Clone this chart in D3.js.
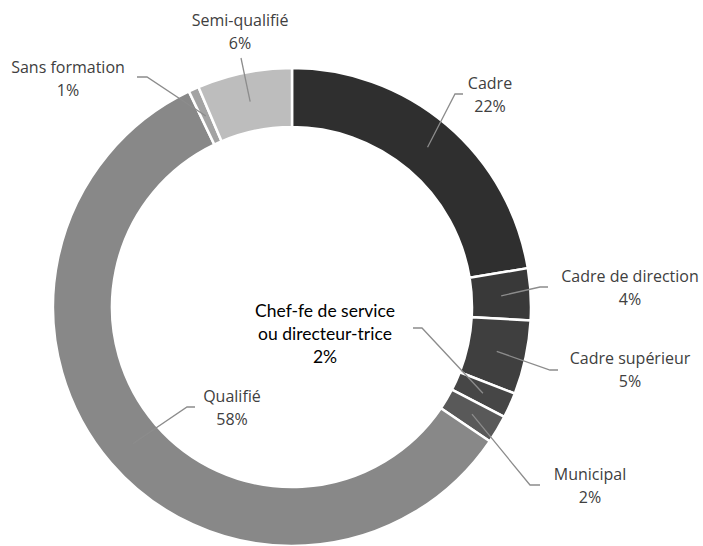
<!DOCTYPE html>
<html><head><meta charset="utf-8">
<script src="https://cdn.jsdelivr.net/npm/d3@7"></script>
<style>body{margin:0;background:#fff}svg{display:block}</style>
</head><body>
<svg id="chart" width="703" height="546"></svg>
<script>
const categories = ["Cadre","Cadre de direction","Cadre supérieur","Chef-fe de service\nou directeur-trice","Municipal","Qualifié","Sans formation","Semi-qualifié"];
const values = [22.4,3.5,5.0,1.7,1.9,58.4,0.7,6.4];
const colors = ["#2f2f2f","#393939","#3f3f3f","#464646","#595959","#888888","#a3a3a3","#bdbdbd"];
// label anchor (text centre) and leader elbow points
const labelPos = [[490,83],[630,276],[630,358],[325,311],[590,474],[232,396],[68,67],[240,20]];
const elbows = [[[455,94],[463,94]],[[540,287],[548,287]],[[550,370],[558,370]],[[422,328],[413,328]],[[530,485],[540,485]],[[187,407],[195,407]],[[147,77],[137,77]],[[241,58],[241,58]]];

const svg = d3.select("#chart");
const cx = 292, cy = 307, R = 239, r = 180;
const g = svg.append("g").attr("transform",`translate(${cx},${cy})`);
const pie = d3.pie().sort(null).value(d=>d);
const arcs = pie(values);
const arc = d3.arc().innerRadius(r).outerRadius(R);
g.selectAll("path.slice").data(arcs).join("path").attr("class","slice")
  .attr("d",arc).attr("fill",(d,i)=>colors[i]).attr("stroke","#fff").attr("stroke-width",2.5);

// leader lines
arcs.forEach((d,i)=>{
  const a = (d.startAngle+d.endAngle)/2;
  const rr = r + (R-r)*0.5;
  const sx = cx + rr*Math.sin(a), sy = cy - rr*Math.cos(a);
  const pts = [[sx,sy], ...elbows[i]];
  svg.append("path").attr("d", d3.line()(pts)).attr("fill","none")
    .attr("stroke","#8c8c8c").attr("stroke-width",1.3);
});

// labels
arcs.forEach((d,i)=>{
  const lines = categories[i].split("\n").concat([Math.round(values[i])+"%"]);
  const special = i===3;
  const t = svg.append("text").attr("text-anchor","middle")
    .attr("font-family", special ? "Lato, 'Open Sans', sans-serif" : "'Open Sans', 'Noto Sans', sans-serif")
    .attr("font-size", special ? 17.5 : 16)
    .attr("fill", special ? "#000" : "#404040");
  lines.forEach((s,k)=>{
    t.append("tspan").attr("x",labelPos[i][0]).attr("y",labelPos[i][1]+6+k*23).text(s);
  });
});
</script>
</body></html>
